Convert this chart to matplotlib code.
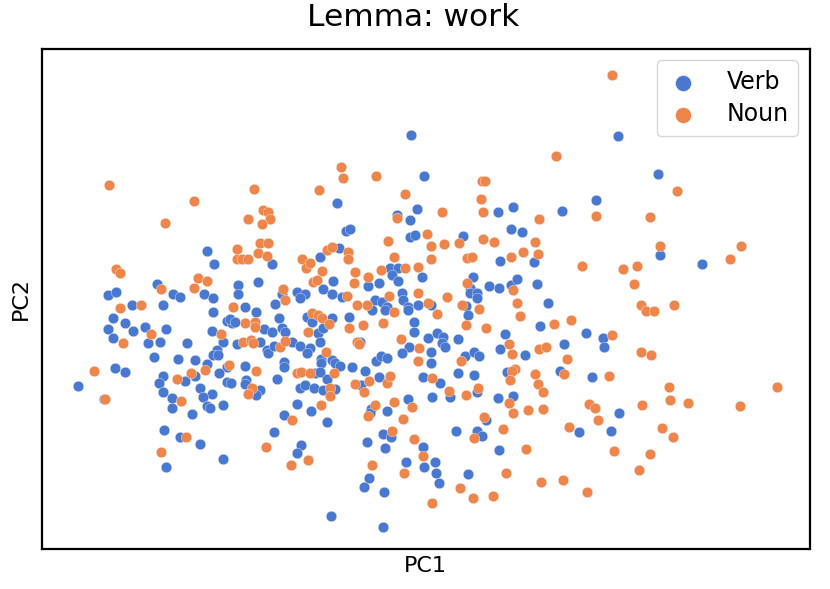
import numpy as np
import matplotlib
matplotlib.use("Agg")
import matplotlib.pyplot as plt

# PC1 / PC2 projections (arbitrary units; PC2 grows downward here)
verb_pc1 = [207, 214, 157, 108, 116, 173, 180, 204, 213, 238, 238, 132, 163, 213,
            113, 125, 108, 113, 133, 145, 166, 148, 160, 187, 227, 232, 230, 212,
            223, 237, 217, 213, 218, 154, 178, 195, 207, 227, 115, 125, 78, 163,
            159, 185, 195, 219, 227, 231, 163, 200, 212, 203, 172, 172, 207, 210,
            223, 192, 104, 164, 180, 200, 223, 166,
            424, 337, 417, 397, 410, 346, 350, 410, 415, 272, 339, 320, 390, 398,
            392, 422, 398, 333, 368, 379, 258, 282, 297, 305, 300, 323, 332, 342,
            402, 403, 375, 382, 387, 408, 418, 275, 245, 256,
            279, 307, 332, 349, 372, 385, 408, 414, 414, 428, 235, 264, 272, 282,
            285, 312, 318, 323, 320, 260, 267, 268, 274, 292, 300, 310, 307, 321,
            321, 332, 335, 340, 360, 409, 402, 431, 431, 376, 381, 387, 245, 284,
            284, 352, 365, 315, 320, 327, 277, 246, 245, 260, 256, 300, 305, 314,
            323, 335, 361, 379, 423, 432, 408, 297, 311, 284, 327, 371, 370, 387,
            274, 301, 297, 383, 391, 367, 385, 423, 406, 424, 435, 436, 439, 369,
            364, 384, 331, 383,
            618, 596, 498, 513, 562, 511, 522, 463, 500, 534, 473, 470, 470, 477,
            477, 489, 499, 511, 517, 537, 548, 466, 431,
            468, 540, 586, 603, 604, 437, 443, 442, 445, 458, 465, 474, 479, 505,
            500, 525, 564, 560, 592, 507, 458, 474, 440, 450, 477, 498, 513, 619,
            579, 611, 486, 456, 477, 482, 499, 468,
            658, 660, 702, 411]
verb_pc2 = [251, 264, 284, 295, 292, 294, 297, 294, 298, 285, 294, 305, 305, 312,
            318, 323, 329, 338, 331, 327, 329, 343, 342, 343, 321, 323, 319, 331,
            342, 344, 350, 355, 355, 357, 359, 360, 364, 367, 368, 372, 386, 376,
            383, 381, 376, 373, 382, 383, 392, 388, 394, 397, 398, 408, 406, 408,
            405, 414, 399, 430, 437, 444, 459, 467,
            176, 203, 209, 215, 220, 231, 229, 237, 235, 264, 248, 257, 268, 268,
            275, 277, 281, 281, 286, 283, 282, 294, 292, 294, 298, 289, 294, 297,
            293, 300, 300, 302, 307, 307, 305, 304, 307, 312,
            318, 317, 318, 317, 310, 310, 310, 322, 332, 338, 322, 329, 332, 328,
            332, 322, 333, 328, 342, 342, 350, 353, 346, 342, 346, 348, 353, 359,
            363, 360, 363, 366, 342, 347, 353, 352, 363, 361, 356, 358, 366, 362,
            367, 367, 371, 373, 372, 379, 379, 380, 384, 390, 395, 388, 385, 388,
            390, 389, 385, 377, 377, 397, 399, 404, 411, 415, 422, 409, 413, 411,
            432, 445, 453, 434, 437, 442, 448, 447, 462, 467, 462, 473, 483, 478,
            487, 492, 516, 527,
            136, 200, 212, 207, 211, 229, 232, 236, 261, 262, 277, 288, 293, 293,
            298, 286, 288, 285, 279, 284, 303, 306, 305,
            315, 326, 333, 338, 347, 333, 337, 343, 347, 339, 356, 352, 356, 334,
            349, 355, 344, 371, 377, 372, 373, 375, 383, 397, 392, 398, 396, 413,
            432, 431, 420, 431, 431, 436, 450, 474,
            174, 255, 264, 135]

noun_pc1 = [109, 194, 165, 116, 120, 198, 207, 161, 194, 120, 141, 233,
            123, 151, 221, 229, 94, 177, 191, 205, 181, 105, 186, 161,
            341, 343, 376, 254, 319, 405, 397, 248, 263, 268, 270, 262, 427, 388,
            431, 260, 268, 237, 258, 267, 237, 242, 248, 327, 332, 348, 348, 302,
            306, 310, 322, 394, 431, 355, 381, 405, 418, 368, 313, 317, 354, 418,
            283, 285, 347, 389, 357, 367, 428,
            312, 318, 322, 329, 349, 363, 383, 394, 245, 255, 255, 308, 243, 251,
            253, 280, 285, 326, 357, 359, 401, 419, 418, 256, 297, 301, 310, 334,
            252, 248, 330, 330, 355, 364, 369, 387, 390, 432, 394, 412, 403, 321,
            292, 375, 368, 266, 308, 291, 392, 414, 423, 372, 404, 432,
            556, 482, 485, 481, 596, 442, 483, 539, 444, 459, 483, 494, 535, 523,
            538, 467, 472, 511, 582, 623, 467, 513, 447, 517, 462, 479, 437,
            466, 486, 520, 554, 571, 612, 461, 509, 512, 539, 546, 567, 564, 609,
            535, 538, 543, 515, 512, 510, 449, 466, 478, 509, 513, 528, 543, 589,
            595, 598, 569, 484, 474, 503, 526, 614, 506, 460, 541, 563, 587, 473,
            493,
            677, 650, 660, 741, 730, 637, 634, 641, 646, 654, 674,
            641, 651, 669, 777, 670, 688, 642, 740, 662, 673, 650, 639, 612]
noun_pc2 = [185, 201, 223, 269, 273, 278, 281, 289, 288, 308, 305, 307,
            343, 334, 334, 365, 371, 379, 373, 370, 401, 399, 437, 452,
            167, 178, 176, 189, 190, 194, 218, 219, 210, 212, 219, 224, 234, 241,
            246, 243, 243, 249, 253, 256, 259, 259, 259, 250, 247, 252, 259, 259,
            268, 263, 271, 257, 259, 272, 270, 268, 267, 277, 282, 280, 283, 293,
            289, 300, 296, 296, 305, 305, 303,
            313, 315, 318, 324, 328, 325, 323, 312, 323, 322, 327, 332, 342, 340,
            343, 347, 341, 352, 342, 344, 339, 348, 361, 371, 373, 372, 373, 373,
            388, 394, 388, 396, 384, 392, 381, 383, 376, 378, 402, 407, 419, 405,
            420, 405, 416, 447, 460, 465, 431, 439, 456, 465, 473, 503,
            156, 181, 181, 199, 216, 212, 212, 219, 244, 243, 239, 242, 242, 252,
            254, 258, 257, 257, 266, 269, 283, 290, 297, 303, 305, 309, 314,
            325, 328, 316, 324, 320, 335, 361, 344, 354, 349, 347, 359, 374, 376,
            374, 384, 392, 369, 371, 380, 391, 395, 388, 403, 413, 410, 409, 404,
            408, 420, 427, 417, 438, 429, 449, 451, 473, 488, 482, 480, 492, 498,
            496,
            191, 217, 246, 246, 259, 266, 284, 305, 311, 311, 305,
            352, 355, 387, 387, 400, 403, 405, 406, 428, 437, 454, 470, 74]

blue = "#4878d0"
orange = "#ee854a"

fig = plt.figure(figsize=(8.3, 5.89), dpi=100)
ax = fig.add_axes([0.0506, 0.0679, 0.925, 0.8496])

ax.scatter(verb_pc1, verb_pc2, s=58, color=blue, edgecolor="white", linewidth=0.25, label="Verb")
ax.scatter(noun_pc1, noun_pc2, s=58, color=orange, edgecolor="white", linewidth=0.25, label="Noun")

ax.set_xlim(42, 810)
ax.set_ylim(549, 48)
ax.set_xticks([])
ax.set_yticks([])
for sp in ax.spines.values():
    sp.set_linewidth(1.6)

ax.set_xlabel("PC1", fontsize=16, labelpad=5)
ax.set_ylabel("PC2", fontsize=16, labelpad=8)
ax.set_title("Lemma: work", fontsize=22.5, pad=16, x=0.483)
ax.legend(loc="upper right", fontsize=17, markerscale=1.5, handlelength=1.4,
          handletextpad=1.15, labelspacing=0.35, borderpad=0.4, borderaxespad=0.5)

fig.savefig("out.png")
